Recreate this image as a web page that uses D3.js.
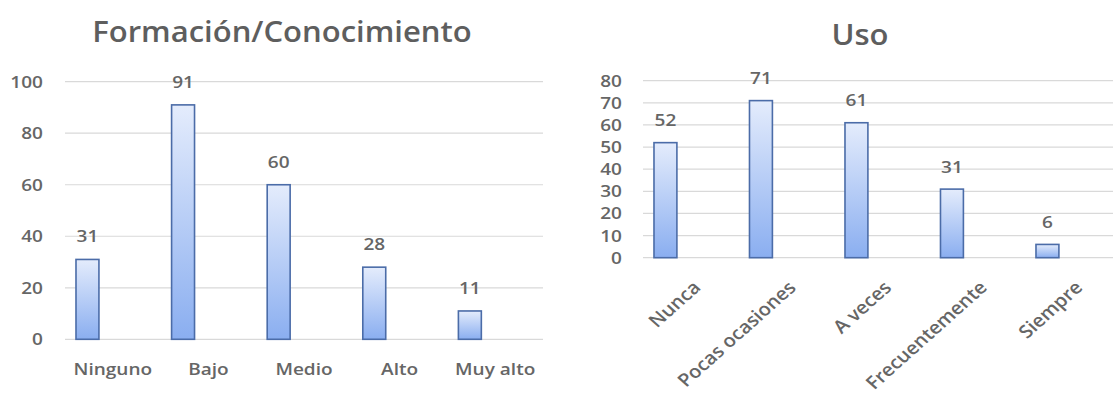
<!DOCTYPE html>
<html>
<head>
<meta charset="utf-8">
<script src="https://cdn.jsdelivr.net/npm/d3@7"></script>
<style>
  html, body { margin: 0; padding: 0; background: #fff; }
  svg { display: block; }
  text { font-family: "Open Sans", Lato, sans-serif; }
</style>
</head>
<body>
<svg id="chart" width="1113" height="394"></svg>
<script>
// Formación/Conocimiento
const formacionCategories = ["Ninguno", "Bajo", "Medio", "Alto", "Muy alto"];
const formacionValues = [31, 91, 60, 28, 11];
const formacionTicks = [0, 20, 40, 60, 80, 100];

// Uso
const usoCategories = ["Nunca", "Pocas ocasiones", "A veces", "Frecuentemente", "Siempre"];
const usoValues = [52, 71, 61, 31, 6];
const usoTicks = [0, 10, 20, 30, 40, 50, 60, 70, 80];

const svg = d3.select("#chart");
const titleColor = "#5e5e5e";
const textColor = "#666666";
const font = "'Open Sans', Lato, sans-serif";
const SX = 1.12;   // slightly widened lettering

// vertical gradient shared by all bars
const defs = svg.append("defs");
const grad = defs.append("linearGradient")
  .attr("id", "barFill").attr("x1", 0).attr("y1", 0).attr("x2", 0).attr("y2", 1);
grad.append("stop").attr("offset", "0%").attr("stop-color", "#e4ecfc");
grad.append("stop").attr("offset", "100%").attr("stop-color", "#8aaef0");

function drawChart(opts) {
  const g = svg.append("g");
  const x = d3.scaleBand().domain(opts.categories).range([opts.left, opts.right]).padding(0);
  const y = d3.scaleLinear().domain([0, opts.max]).range([opts.bottom, opts.top]);
  const step = x.step();
  const barW = step * 0.24;
  const barOff = step * 0.115;

  // title
  g.append("text")
    .attr("transform", `translate(${opts.titleX},${opts.titleY}) scale(1.07,1)`)
    .attr("text-anchor", "middle")
    .attr("font-size", 29).attr("font-weight", 600)
    .attr("fill", titleColor)
    .text(opts.title);

  // gridlines
  g.selectAll("line.grid").data(opts.ticks).join("line")
    .attr("class", "grid")
    .attr("x1", opts.left).attr("x2", opts.right)
    .attr("y1", d => y(d)).attr("y2", d => y(d))
    .attr("stroke", "#d9d9d9").attr("stroke-width", 1.2);

  // y axis labels
  const yAxis = d3.axisLeft(y).tickValues(opts.ticks).tickSize(0).tickPadding(0);
  const ya = g.append("g").attr("transform", `translate(${opts.yLabelX},0)`).call(yAxis);
  ya.select(".domain").remove();
  ya.selectAll("text")
    .attr("font-family", font)
    .attr("font-size", opts.tickFont).attr("font-weight", 600)
    .attr("fill", textColor)
    .attr("transform", `scale(${SX},1)`);

  // bars
  g.selectAll("rect.bar").data(opts.values).join("rect")
    .attr("class", "bar")
    .attr("x", (d, i) => x(opts.categories[i]) + barOff)
    .attr("y", d => y(d))
    .attr("width", barW)
    .attr("height", d => y(0) - y(d))
    .attr("fill", "url(#barFill)")
    .attr("stroke", "#4b6ca8").attr("stroke-width", 1.6);

  // value labels
  g.selectAll("text.val").data(opts.values).join("text")
    .attr("class", "val")
    .attr("transform", (d, i) =>
      `translate(${x(opts.categories[i]) + barOff + barW / 2},${y(d) - opts.valGap}) scale(${SX},1)`)
    .attr("text-anchor", "middle")
    .attr("font-size", 17).attr("font-weight", 600)
    .attr("fill", textColor)
    .text(d => d);

  // category labels
  const xa = g.append("g").attr("transform", `translate(0,${opts.bottom})`)
    .call(d3.axisBottom(x).tickSize(0).tickPadding(0));
  xa.select(".domain").remove();
  const xt = xa.selectAll("text")
    .attr("font-family", font)
    .attr("font-size", opts.catFont).attr("font-weight", 600)
    .attr("fill", textColor)
    .attr("dy", null).attr("y", 0).attr("x", 0);
  if (opts.rotate) {
    xt.attr("text-anchor", "end")
      .attr("transform", `translate(${opts.labelDx},${opts.labelDy}) scale(${SX},1) rotate(-45)`);
  } else {
    xt.attr("transform", `translate(0,${opts.labelDy}) scale(${SX},1)`);
  }
}

drawChart({
  title: "Formación/Conocimiento", titleX: 282, titleY: 42,
  categories: formacionCategories, values: formacionValues, ticks: formacionTicks,
  max: 100, left: 65, right: 543, top: 81.7, bottom: 339.3,
  yLabelX: 43, tickFont: 17, catFont: 17, valGap: 17, labelDy: 36, rotate: false
});

drawChart({
  title: "Uso", titleX: 860, titleY: 45,
  categories: usoCategories, values: usoValues, ticks: usoTicks,
  max: 80, left: 643, right: 1120.5, top: 80.7, bottom: 257.7,
  yLabelX: 622, tickFont: 17, catFont: 18, valGap: 16.5, labelDx: 11, labelDy: 31, rotate: true
});
</script>
</body>
</html>
